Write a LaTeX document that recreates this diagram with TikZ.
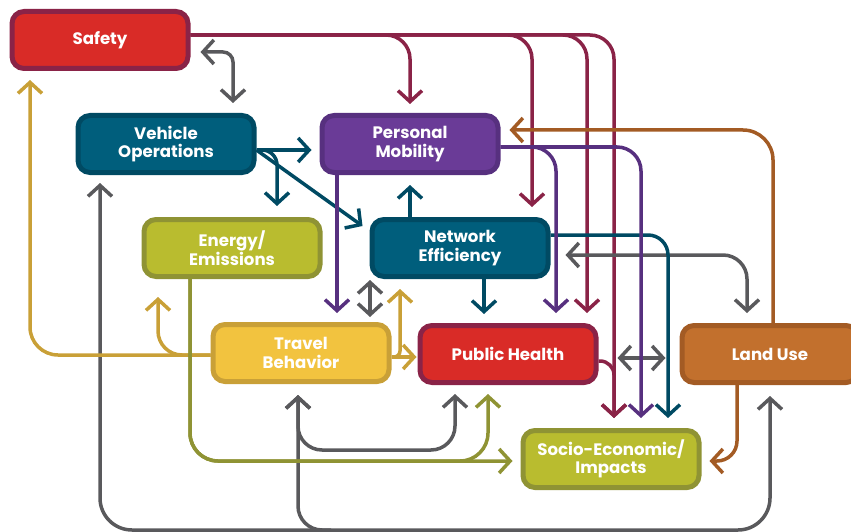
\documentclass[tikz,border=0pt]{standalone}
\usepackage{fontspec}
\setmainfont{Poppins}
\usetikzlibrary{arrows.meta, backgrounds, calc}
\definecolor{redbox}{HTML}{D92B27}
\definecolor{maroonln}{HTML}{8A2347}
\definecolor{tealbox}{HTML}{005E7C}
\definecolor{tealln}{HTML}{004A63}
\definecolor{purpbox}{HTML}{6A3B97}
\definecolor{purpln}{HTML}{57307F}
\definecolor{olivebox}{HTML}{B9BC2F}
\definecolor{oliveln}{HTML}{8F9334}
\definecolor{goldbox}{HTML}{F2C33F}
\definecolor{goldln}{HTML}{C9A037}
\definecolor{orangebox}{HTML}{C2702D}
\definecolor{orangeln}{HTML}{A35B24}
\definecolor{greyln}{HTML}{59595C}

\begin{document}
\begin{tikzpicture}[x=1pt, y=-1pt,
                    >={Straight Barb[length=11pt,width=24pt]},
                    box/.style={rounded corners=12pt, line width=5pt,
                                minimum width=176pt, minimum height=57pt,
                                text=white, align=center,
                                font=\bfseries\fontsize{16.6}{18.5}\selectfont},
                    link/.style={line width=3.5pt, rounded corners=24pt}]
    \useasboundingbox (0,0) rectangle (851,532);
    \node[box, fill=redbox, draw=maroonln] (safety) at (100,40) {Safety};
    \node[box, fill=tealbox, draw=tealln] (vehops) at (166,144) {Vehicle\\Operations};
    \node[box, fill=purpbox, draw=purpln] (persmob) at (410,144) {Personal\\Mobility};
    \node[box, fill=olivebox, draw=oliveln] (energy) at (232,248) {Energy/\\Emissions};
    \node[box, fill=tealbox, draw=tealln] (netbox) at (460,248) {Network\\Efficiency};
    \node[box, fill=goldbox, draw=goldln] (travel) at (301,353) {Travel\\Behavior};
    \node[box, fill=redbox, draw=maroonln] (health) at (508,354) {Public Health};
    \node[box, fill=orangebox, draw=orangeln] (landuse) at (770,354) {Land Use};
    \node[box, fill=olivebox, draw=oliveln] (socio) at (611,459) {Socio-Economic/\\Impacts};
    \coordinate (floor) at (0,530);
    \coordinate (eturn) at ($(health.south |- socio.west)+(-20,2)$);

    \begin{scope}[on background layer]
    % from safety
    \draw[link, maroonln, ->, shorten >=9pt] ([yshift=5pt]safety.east) -| (persmob.north);
    \draw[link, maroonln, ->, shorten >=10pt] ([yshift=5pt]safety.east) -| ([xshift=72pt]netbox.north);
    \draw[link, maroonln, ->, shorten >=10pt] ([yshift=5pt]safety.east) -| ([xshift=79pt]health.north);
    \draw[link, maroonln, ->, shorten >=10pt] ([yshift=5pt]safety.east) -| ([xshift=3pt]socio.north);
    \draw[link, maroonln, ->, rounded corners=14pt, shorten >=10pt] ([yshift=-7pt]health.east) -| ([xshift=3pt]socio.north);
    % grey links
    \draw[link, greyln, <->, rounded corners=10pt, shorten <=10pt, shorten >=10pt] ([yshift=-12pt]safety.east) -| ([xshift=67pt]vehops.north);
    \draw[link, greyln, <->, shorten <=15pt, shorten >=10pt] ([yshift=-7pt]netbox.east) -| ([xshift=-23pt]landuse.north);
    \draw[link, greyln, <->, shorten <=19pt, shorten >=14pt] ([yshift=-4pt]health.east) -- ([yshift=-4pt]landuse.west);
    \draw[link, greyln, <->, shorten <=5pt, shorten >=1pt] ([xshift=69pt]travel.north) -- ([xshift=-90pt]netbox.south);
    \draw[link, greyln, <->, rounded corners=32pt, shorten <=8pt, shorten >=11pt] ([xshift=-66pt]vehops.south) |- (floor -| landuse.south) -- (landuse.south);
    \draw[link, greyln, ->, shorten >=11pt] ($(floor -| travel.south)+(30,0)$) -| ([xshift=-3pt]travel.south);
    \draw[link, greyln, <->, shorten <=11pt, shorten >=9pt] ([xshift=-3pt]travel.south) -- ++(0,66) -| ([xshift=-53pt]health.south);
    % teal links
    \draw[link, tealln, ->, shorten >=8pt] ([yshift=-6pt]vehops.east) -- ([yshift=-6pt]persmob.west);
    \draw[link, tealln, ->, rounded corners=15pt, shorten >=11pt] ([yshift=-6pt]vehops.east) -| ([xshift=45pt]energy.north);
    \draw[link, tealln, ->] ([yshift=-6pt]vehops.east) -- ([xshift=-7pt,yshift=-9pt]netbox.north west);
    \draw[link, tealln, ->, shorten >=10pt] ([xshift=-50pt]netbox.north) -- (persmob.south);
    \draw[link, tealln, ->, shorten >=9pt] ([xshift=24pt]netbox.south) -- ([xshift=-24pt]health.north);
    \draw[link, tealln, ->, rounded corners=20pt, shorten >=10pt] ([yshift=13pt]netbox.east) -| ([xshift=57pt]socio.north);
    % purple links
    \draw[link, purpln, ->, shorten >=9pt] ([xshift=-73pt]persmob.south) -- ([xshift=36pt]travel.north);
    \draw[link, purpln, ->, shorten >=10pt] ([yshift=-3pt]persmob.east) -| ([xshift=48pt]health.north);
    \draw[link, purpln, ->, shorten >=10pt] ([yshift=-3pt]persmob.east) -| ([xshift=30pt]socio.north);
    % land use
    \draw[link, orangeln, ->, rounded corners=30pt, shorten >=9pt] ([xshift=3pt]landuse.north) |- ([yshift=14pt]persmob.east);
    \draw[link, orangeln, ->, rounded corners=20pt, shorten >=8pt] ([xshift=-33pt]landuse.south) |- ([yshift=-2pt]socio.east);
    % travel behavior
    \draw[link, goldln, ->, rounded corners=28pt, shorten >=9pt] ([yshift=-2pt]travel.west) -| ([xshift=-70pt]safety.south);
    \draw[link, goldln, ->, shorten >=18pt] ([yshift=-2pt]travel.west) -| ([xshift=-74pt]energy.south);
    \draw[link, goldln, ->, shorten >=1pt] ([yshift=-4pt]travel.east) -- ([yshift=-3pt]health.west);
    \draw[link, goldln, ->, rounded corners=6pt, shorten >=10pt] ([yshift=-4pt]travel.east) -| ([xshift=-60pt]netbox.south);
    % energy
    \draw[link, oliveln, ->, rounded corners=28pt, shorten >=8pt] ([xshift=-42pt]energy.south) |- ([yshift=-2pt]socio.west);
    \draw[link, oliveln, ->, rounded corners=28pt, shorten >=9pt] ([xshift=-42pt]energy.south) |- (eturn) -- ([xshift=-20pt]health.south);
    \end{scope}
\end{tikzpicture}
\end{document}
